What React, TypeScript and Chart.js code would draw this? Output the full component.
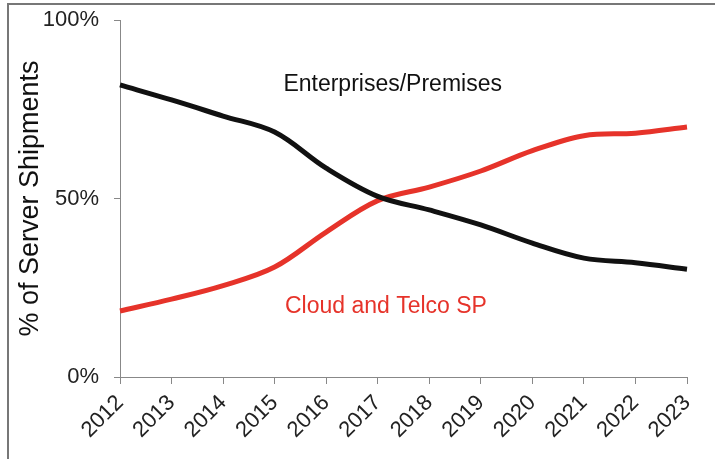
import React, { useEffect, useRef } from "react";
import { Chart, registerables } from "chart.js";

Chart.register(...registerables);

const years = ["2012", "2013", "2014", "2015", "2016", "2017", "2018", "2019", "2020", "2021", "2022", "2023"];
const enterprises = [81.8, 77.6, 73.1, 68.6, 58.5, 50.6, 46.8, 42.6, 37.5, 33.3, 32.0, 30.2];
const cloud = [18.5, 21.8, 25.6, 30.8, 40.6, 49.4, 53.2, 57.7, 63.4, 67.6, 68.3, 70.0];
const yTicks = [0, 50, 100];

const RED = "#e6332a";
const BLACK = "#111111";
const FONT = "'Liberation Sans', Arial, sans-serif";

const labelsPlugin = {
  id: "seriesLabels",
  afterDatasetsDraw(chart: any) {
    const { ctx, scales } = chart;
    const x = scales.x;
    const y = scales.y;
    ctx.save();
    ctx.font = `23px ${FONT}`;
    ctx.textBaseline = "middle";
    ctx.textAlign = "left";
    ctx.fillStyle = BLACK;
    ctx.fillText("Enterprises/Premises", x.getPixelForValue(3.17), y.getPixelForValue(81.8));
    ctx.fillStyle = RED;
    ctx.fillText("Cloud and Telco SP", x.getPixelForValue(3.2), y.getPixelForValue(19.6));
    ctx.restore();
  },
};

export default function App() {
  const ref = useRef<HTMLCanvasElement | null>(null);
  useEffect(() => {
    document.body.style.margin = "0";
    if (!ref.current) return;
    const chart = new Chart(ref.current, {
      type: "line",
      data: {
        labels: years,
        datasets: [
          {
            label: "Enterprises/Premises",
            data: enterprises,
            borderColor: BLACK,
            borderWidth: 5,
            pointRadius: 0,
            tension: 0.35,
            fill: false,
          },
          {
            label: "Cloud and Telco SP",
            data: cloud,
            borderColor: RED,
            borderWidth: 5,
            pointRadius: 0,
            tension: 0.35,
            fill: false,
          },
        ],
      },
      options: {
        animation: false,
        responsive: false,
        devicePixelRatio: 1,
        layout: { padding: { top: 20, right: 28, left: 0, bottom: 0 } },
        plugins: {
          legend: { display: false },
          tooltip: { enabled: false },
        },
        scales: {
          x: {
            type: "category",
            offset: false,
            grid: {
              drawOnChartArea: false,
              drawTicks: true,
              tickLength: 7,
              color: "#888888",
            },
            border: { display: true, color: "#888888", width: 1 },
            ticks: {
              minRotation: 45,
              maxRotation: 45,
              autoSkip: false,
              padding: 6,
              color: "#222222",
              font: { family: FONT, size: 22 },
            },
            afterFit: (s: any) => {
              s.height = 459 - 377;
              s.paddingLeft = 0;
              s.paddingRight = 0;
            },
          },
          y: {
            min: 0,
            max: 100,
            afterBuildTicks: (s: any) => {
              s.ticks = yTicks.map((v) => ({ value: v }));
            },
            grid: {
              drawOnChartArea: false,
              drawTicks: true,
              tickLength: 6,
              color: "#888888",
            },
            border: { display: true, color: "#888888", width: 1 },
            ticks: {
              padding: 15,
              color: "#222222",
              font: { family: FONT, size: 22 },
              callback: (v: any) => `${v}%`,
            },
            title: {
              display: true,
              text: "% of Server Shipments",
              color: "#111111",
              font: { family: FONT, size: 27 },
              padding: { top: 14, bottom: 0 },
            },
            afterFit: (s: any) => {
              s.width = 120;
              s.paddingTop = 0;
              s.paddingBottom = 0;
            },
          },
        },
      },
      plugins: [labelsPlugin],
    });
    return () => chart.destroy();
  }, []);

  return (
    <div style={{ position: "relative", width: 715, height: 459, overflow: "hidden", background: "#fff" }}>
      <div
        style={{
          position: "absolute",
          left: 7,
          top: 3,
          width: 800,
          height: 600,
          borderTop: "2px solid #777",
          borderLeft: "2px solid #777",
          boxSizing: "border-box",
        }}
      />
      <canvas ref={ref} width={715} height={459} style={{ position: "absolute", left: 0, top: 0 }} />
    </div>
  );
}
